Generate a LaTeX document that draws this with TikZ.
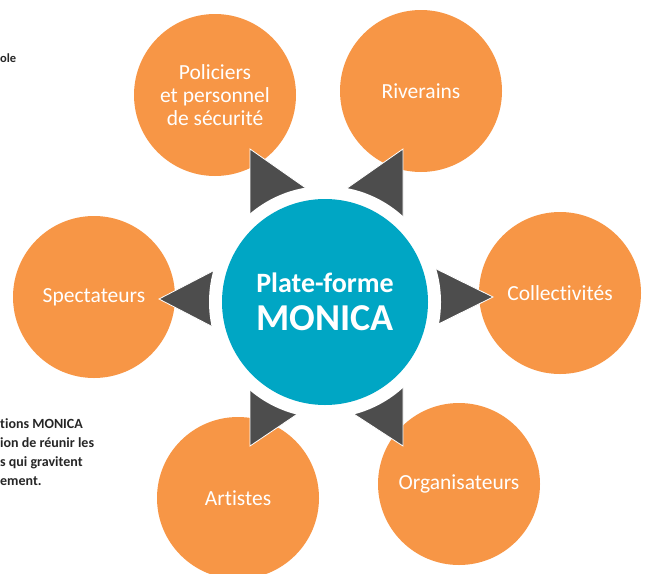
\documentclass[tikz,border=0pt]{standalone}
\usepackage{fontspec}
\setmainfont{Carlito}[Ligatures=NoCommon]
\usetikzlibrary{positioning}
\definecolor{monicaorange}{RGB}{247,150,70}
\definecolor{monicablue}{RGB}{0,166,196}
\definecolor{arrowgrey}{RGB}{77,77,77}
\tikzset{
	acteur/.style={circle, fill=monicaorange, text=white, minimum size=162pt, inner sep=0pt, align=center, font=\fontsize{21.5}{23}\selectfont},
	pointe/.style={fill=arrowgrey, draw=white, line width=0.8pt},
	note/.style={anchor=base west, inner sep=0pt, text=black!85, font=\bfseries\fontsize{14}{19}\selectfont}
}

\begin{document}
\begin{tikzpicture}
		[x=1pt,y=-1pt]
		\useasboundingbox (0,0) rectangle (652,573);
		\coordinate (centre) at (325,302);
		% acteurs autour de la plate-forme
		\node[acteur] (police) at (215,95) {Policiers\\et personnel\\de sécurité};
		\node[acteur] (riverains) at (421,91) {Riverains};
		\node[acteur] (collectivites) at (560,293) {Collectivités};
		\node[acteur] (organisateurs) at (459,484) {Organisateurs};
		\node[acteur] (artistes) at (238,498) {Artistes};
		\node[acteur] (spectateurs) at (94,297) {Spectateurs};
		
		% pointes
		\fill[pointe] (250,149) -- (320,198) -- (250,262) -- cycle;
		\fill[pointe] (403,149) -- (333,198) -- (403,262) -- cycle;
		\fill[pointe] (159,299) -- (240,257) -- (240,341) -- cycle;
		\fill[pointe] (493,297) -- (410,256) -- (410,338) -- cycle;
		\fill[pointe] (250,446) -- (330,392) -- (250,345) -- cycle;
		\fill[pointe] (403,446) -- (320,392) -- (403,345) -- cycle;
		\fill[white] (centre) circle[radius=116pt];
		
		\node[circle, fill=monicablue, text=white, minimum size=206pt, inner sep=0pt, align=center, font=\bfseries] (monica) at (centre)
		{\fontsize{28}{30}\selectfont Plate-forme\\[12pt]\fontsize{38}{38}\selectfont MONICA};
		
		% textes coupés
		\node[note, font=\bfseries\fontsize{12.5}{13}\selectfont] (haut) at (0,62) {ole};
		\node[note] (l1) at (0,428) {tions MONICA};
		\node[note] (l2) at (0,447) {ion de réunir les};
		\node[note] (l3) at (0,466) {s qui gravitent};
		\node[note] (l4) at (0,485) {ement.};
		
	\end{tikzpicture}
\end{document}
